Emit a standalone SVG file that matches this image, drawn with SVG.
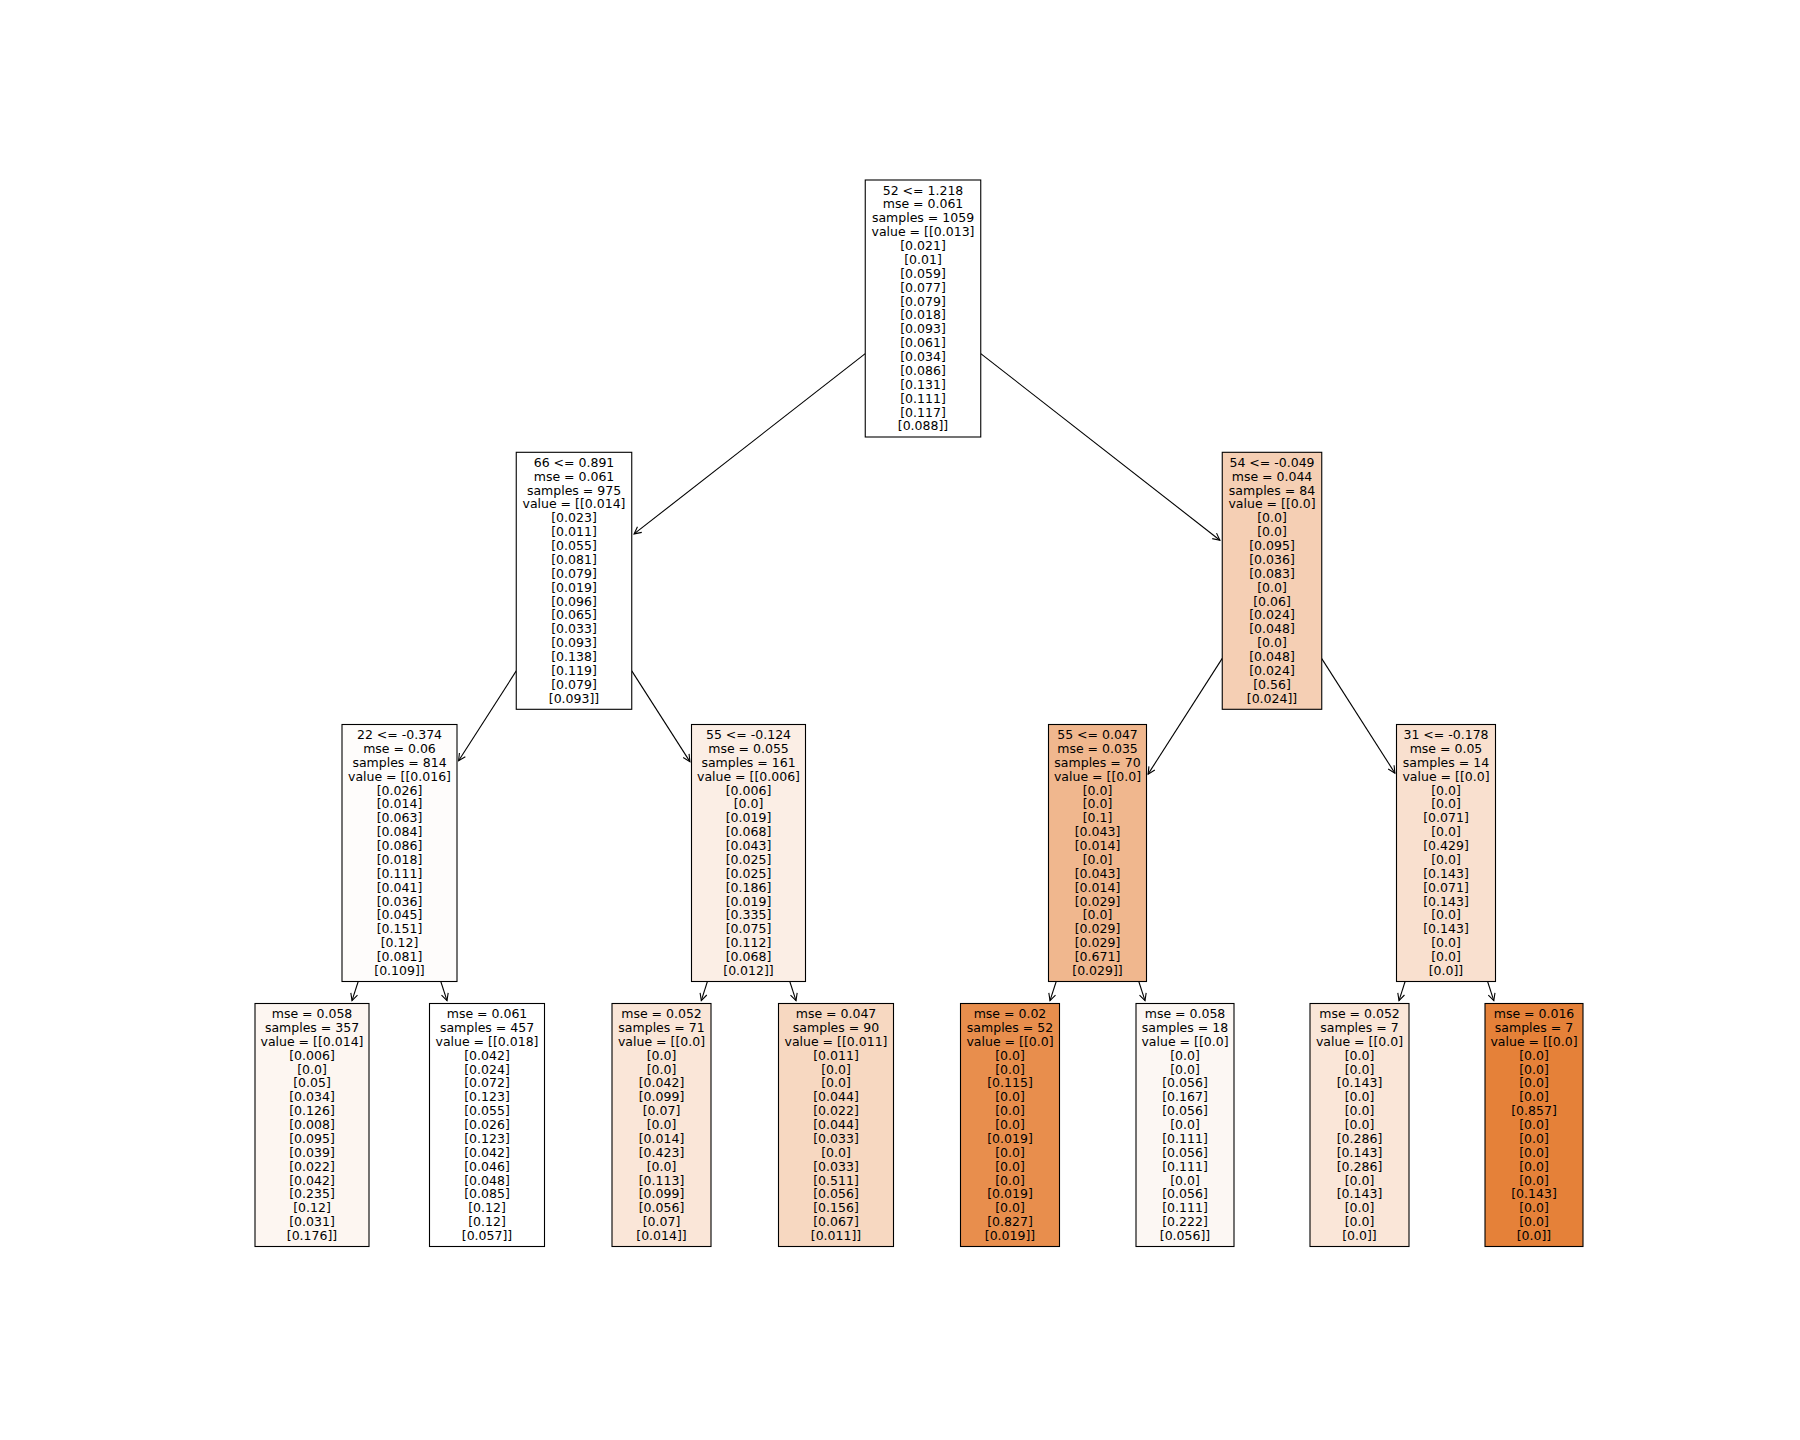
<svg xmlns="http://www.w3.org/2000/svg" width="1800" height="1440" viewBox="0 0 1800 1440">
<style>
.box{stroke:#000;stroke-width:1.1}
.t{font-family:"DejaVu Sans","Liberation Sans",sans-serif;font-size:12.5px;fill:#000;text-anchor:middle}
.e{stroke:#000;stroke-width:1.1;fill:none;marker-end:url(#ah)}
</style>
<defs>
<marker id="ah" markerUnits="userSpaceOnUse" markerWidth="12" markerHeight="12" viewBox="-9 -6 12 12" refX="0" refY="0" orient="auto">
<path d="M -7 -3.5 L 0 0 L -7 3.5" fill="none" stroke="#000" stroke-width="1.1"/>
</marker>
</defs>
<rect width="1800" height="1440" fill="#fff"/>
<g id="edges">
<line class="e" x1="865.25" y1="353.6" x2="634.1" y2="533.9"/>
<line class="e" x1="980.75" y1="353.6" x2="1219.9" y2="540.2"/>
<line class="e" x1="516.25" y1="670.9" x2="458.6" y2="760.8"/>
<line class="e" x1="631.75" y1="670.9" x2="689.9" y2="761.6"/>
<line class="e" x1="1222.25" y1="658.4" x2="1148.1" y2="774.1"/>
<line class="e" x1="1321.75" y1="658.6" x2="1394.9" y2="773.1"/>
<line class="e" x1="358.2" y1="981.5" x2="352.0" y2="1000.6"/>
<line class="e" x1="440.8" y1="981.5" x2="447.0" y2="1000.6"/>
<line class="e" x1="707.4" y1="981.5" x2="701.3" y2="1000.6"/>
<line class="e" x1="789.8" y1="981.5" x2="796.0" y2="1000.6"/>
<line class="e" x1="1056.2" y1="981.5" x2="1050.0" y2="1000.6"/>
<line class="e" x1="1138.8" y1="981.5" x2="1145.0" y2="1000.6"/>
<line class="e" x1="1405.1" y1="981.5" x2="1399.0" y2="1000.6"/>
<line class="e" x1="1487.6" y1="981.5" x2="1493.8" y2="1000.6"/>
</g>
<g id="root">
<rect class="box" x="865.25" y="180" width="115.5" height="257" fill="#ffffff"/>
<text class="t" x="923" y="194.5">52 &lt;= 1.218<tspan x="923" dy="13.88">mse = 0.061</tspan><tspan x="923" dy="13.88">samples = 1059</tspan><tspan x="923" dy="13.88">value = [[0.013]</tspan><tspan x="923" dy="13.88">[0.021]</tspan><tspan x="923" dy="13.88">[0.01]</tspan><tspan x="923" dy="13.88">[0.059]</tspan><tspan x="923" dy="13.88">[0.077]</tspan><tspan x="923" dy="13.88">[0.079]</tspan><tspan x="923" dy="13.88">[0.018]</tspan><tspan x="923" dy="13.88">[0.093]</tspan><tspan x="923" dy="13.88">[0.061]</tspan><tspan x="923" dy="13.88">[0.034]</tspan><tspan x="923" dy="13.88">[0.086]</tspan><tspan x="923" dy="13.88">[0.131]</tspan><tspan x="923" dy="13.88">[0.111]</tspan><tspan x="923" dy="13.88">[0.117]</tspan><tspan x="923" dy="13.88">[0.088]]</tspan></text>
</g>
<g id="n66">
<rect class="box" x="516.25" y="452.3" width="115.5" height="257" fill="#ffffff"/>
<text class="t" x="574" y="466.8">66 &lt;= 0.891<tspan x="574" dy="13.88">mse = 0.061</tspan><tspan x="574" dy="13.88">samples = 975</tspan><tspan x="574" dy="13.88">value = [[0.014]</tspan><tspan x="574" dy="13.88">[0.023]</tspan><tspan x="574" dy="13.88">[0.011]</tspan><tspan x="574" dy="13.88">[0.055]</tspan><tspan x="574" dy="13.88">[0.081]</tspan><tspan x="574" dy="13.88">[0.079]</tspan><tspan x="574" dy="13.88">[0.019]</tspan><tspan x="574" dy="13.88">[0.096]</tspan><tspan x="574" dy="13.88">[0.065]</tspan><tspan x="574" dy="13.88">[0.033]</tspan><tspan x="574" dy="13.88">[0.093]</tspan><tspan x="574" dy="13.88">[0.138]</tspan><tspan x="574" dy="13.88">[0.119]</tspan><tspan x="574" dy="13.88">[0.079]</tspan><tspan x="574" dy="13.88">[0.093]]</tspan></text>
</g>
<g id="n54">
<rect class="box" x="1222.25" y="452.3" width="99.5" height="257" fill="#f5cfb4"/>
<text class="t" x="1272" y="466.8">54 &lt;= -0.049<tspan x="1272" dy="13.88">mse = 0.044</tspan><tspan x="1272" dy="13.88">samples = 84</tspan><tspan x="1272" dy="13.88">value = [[0.0]</tspan><tspan x="1272" dy="13.88">[0.0]</tspan><tspan x="1272" dy="13.88">[0.0]</tspan><tspan x="1272" dy="13.88">[0.095]</tspan><tspan x="1272" dy="13.88">[0.036]</tspan><tspan x="1272" dy="13.88">[0.083]</tspan><tspan x="1272" dy="13.88">[0.0]</tspan><tspan x="1272" dy="13.88">[0.06]</tspan><tspan x="1272" dy="13.88">[0.024]</tspan><tspan x="1272" dy="13.88">[0.048]</tspan><tspan x="1272" dy="13.88">[0.0]</tspan><tspan x="1272" dy="13.88">[0.048]</tspan><tspan x="1272" dy="13.88">[0.024]</tspan><tspan x="1272" dy="13.88">[0.56]</tspan><tspan x="1272" dy="13.88">[0.024]]</tspan></text>
</g>
<g id="n22">
<rect class="box" x="342" y="724.5" width="115" height="257" fill="#fefcfb"/>
<text class="t" x="399.5" y="739">22 &lt;= -0.374<tspan x="399.5" dy="13.88">mse = 0.06</tspan><tspan x="399.5" dy="13.88">samples = 814</tspan><tspan x="399.5" dy="13.88">value = [[0.016]</tspan><tspan x="399.5" dy="13.88">[0.026]</tspan><tspan x="399.5" dy="13.88">[0.014]</tspan><tspan x="399.5" dy="13.88">[0.063]</tspan><tspan x="399.5" dy="13.88">[0.084]</tspan><tspan x="399.5" dy="13.88">[0.086]</tspan><tspan x="399.5" dy="13.88">[0.018]</tspan><tspan x="399.5" dy="13.88">[0.111]</tspan><tspan x="399.5" dy="13.88">[0.041]</tspan><tspan x="399.5" dy="13.88">[0.036]</tspan><tspan x="399.5" dy="13.88">[0.045]</tspan><tspan x="399.5" dy="13.88">[0.151]</tspan><tspan x="399.5" dy="13.88">[0.12]</tspan><tspan x="399.5" dy="13.88">[0.081]</tspan><tspan x="399.5" dy="13.88">[0.109]]</tspan></text>
</g>
<g id="n55a">
<rect class="box" x="691.5" y="724.5" width="114" height="257" fill="#fbeee5"/>
<text class="t" x="748.5" y="739">55 &lt;= -0.124<tspan x="748.5" dy="13.88">mse = 0.055</tspan><tspan x="748.5" dy="13.88">samples = 161</tspan><tspan x="748.5" dy="13.88">value = [[0.006]</tspan><tspan x="748.5" dy="13.88">[0.006]</tspan><tspan x="748.5" dy="13.88">[0.0]</tspan><tspan x="748.5" dy="13.88">[0.019]</tspan><tspan x="748.5" dy="13.88">[0.068]</tspan><tspan x="748.5" dy="13.88">[0.043]</tspan><tspan x="748.5" dy="13.88">[0.025]</tspan><tspan x="748.5" dy="13.88">[0.025]</tspan><tspan x="748.5" dy="13.88">[0.186]</tspan><tspan x="748.5" dy="13.88">[0.019]</tspan><tspan x="748.5" dy="13.88">[0.335]</tspan><tspan x="748.5" dy="13.88">[0.075]</tspan><tspan x="748.5" dy="13.88">[0.112]</tspan><tspan x="748.5" dy="13.88">[0.068]</tspan><tspan x="748.5" dy="13.88">[0.012]]</tspan></text>
</g>
<g id="n55b">
<rect class="box" x="1048.5" y="724.5" width="98" height="257" fill="#f0b78e"/>
<text class="t" x="1097.5" y="739">55 &lt;= 0.047<tspan x="1097.5" dy="13.88">mse = 0.035</tspan><tspan x="1097.5" dy="13.88">samples = 70</tspan><tspan x="1097.5" dy="13.88">value = [[0.0]</tspan><tspan x="1097.5" dy="13.88">[0.0]</tspan><tspan x="1097.5" dy="13.88">[0.0]</tspan><tspan x="1097.5" dy="13.88">[0.1]</tspan><tspan x="1097.5" dy="13.88">[0.043]</tspan><tspan x="1097.5" dy="13.88">[0.014]</tspan><tspan x="1097.5" dy="13.88">[0.0]</tspan><tspan x="1097.5" dy="13.88">[0.043]</tspan><tspan x="1097.5" dy="13.88">[0.014]</tspan><tspan x="1097.5" dy="13.88">[0.029]</tspan><tspan x="1097.5" dy="13.88">[0.0]</tspan><tspan x="1097.5" dy="13.88">[0.029]</tspan><tspan x="1097.5" dy="13.88">[0.029]</tspan><tspan x="1097.5" dy="13.88">[0.671]</tspan><tspan x="1097.5" dy="13.88">[0.029]]</tspan></text>
</g>
<g id="n31">
<rect class="box" x="1396.5" y="724.5" width="99" height="257" fill="#f9e0cf"/>
<text class="t" x="1446" y="739">31 &lt;= -0.178<tspan x="1446" dy="13.88">mse = 0.05</tspan><tspan x="1446" dy="13.88">samples = 14</tspan><tspan x="1446" dy="13.88">value = [[0.0]</tspan><tspan x="1446" dy="13.88">[0.0]</tspan><tspan x="1446" dy="13.88">[0.0]</tspan><tspan x="1446" dy="13.88">[0.071]</tspan><tspan x="1446" dy="13.88">[0.0]</tspan><tspan x="1446" dy="13.88">[0.429]</tspan><tspan x="1446" dy="13.88">[0.0]</tspan><tspan x="1446" dy="13.88">[0.143]</tspan><tspan x="1446" dy="13.88">[0.071]</tspan><tspan x="1446" dy="13.88">[0.143]</tspan><tspan x="1446" dy="13.88">[0.0]</tspan><tspan x="1446" dy="13.88">[0.143]</tspan><tspan x="1446" dy="13.88">[0.0]</tspan><tspan x="1446" dy="13.88">[0.0]</tspan><tspan x="1446" dy="13.88">[0.0]]</tspan></text>
</g>
<g id="leaf0">
<rect class="box" x="255" y="1003.5" width="114" height="243" fill="#fdf6f1"/>
<text class="t" x="312" y="1018">mse = 0.058<tspan x="312" dy="13.88">samples = 357</tspan><tspan x="312" dy="13.88">value = [[0.014]</tspan><tspan x="312" dy="13.88">[0.006]</tspan><tspan x="312" dy="13.88">[0.0]</tspan><tspan x="312" dy="13.88">[0.05]</tspan><tspan x="312" dy="13.88">[0.034]</tspan><tspan x="312" dy="13.88">[0.126]</tspan><tspan x="312" dy="13.88">[0.008]</tspan><tspan x="312" dy="13.88">[0.095]</tspan><tspan x="312" dy="13.88">[0.039]</tspan><tspan x="312" dy="13.88">[0.022]</tspan><tspan x="312" dy="13.88">[0.042]</tspan><tspan x="312" dy="13.88">[0.235]</tspan><tspan x="312" dy="13.88">[0.12]</tspan><tspan x="312" dy="13.88">[0.031]</tspan><tspan x="312" dy="13.88">[0.176]]</tspan></text>
</g>
<g id="leaf1">
<rect class="box" x="429.5" y="1003.5" width="115" height="243" fill="#ffffff"/>
<text class="t" x="487" y="1018">mse = 0.061<tspan x="487" dy="13.88">samples = 457</tspan><tspan x="487" dy="13.88">value = [[0.018]</tspan><tspan x="487" dy="13.88">[0.042]</tspan><tspan x="487" dy="13.88">[0.024]</tspan><tspan x="487" dy="13.88">[0.072]</tspan><tspan x="487" dy="13.88">[0.123]</tspan><tspan x="487" dy="13.88">[0.055]</tspan><tspan x="487" dy="13.88">[0.026]</tspan><tspan x="487" dy="13.88">[0.123]</tspan><tspan x="487" dy="13.88">[0.042]</tspan><tspan x="487" dy="13.88">[0.046]</tspan><tspan x="487" dy="13.88">[0.048]</tspan><tspan x="487" dy="13.88">[0.085]</tspan><tspan x="487" dy="13.88">[0.12]</tspan><tspan x="487" dy="13.88">[0.12]</tspan><tspan x="487" dy="13.88">[0.057]]</tspan></text>
</g>
<g id="leaf2">
<rect class="box" x="612" y="1003.5" width="99" height="243" fill="#fae6d8"/>
<text class="t" x="661.5" y="1018">mse = 0.052<tspan x="661.5" dy="13.88">samples = 71</tspan><tspan x="661.5" dy="13.88">value = [[0.0]</tspan><tspan x="661.5" dy="13.88">[0.0]</tspan><tspan x="661.5" dy="13.88">[0.0]</tspan><tspan x="661.5" dy="13.88">[0.042]</tspan><tspan x="661.5" dy="13.88">[0.099]</tspan><tspan x="661.5" dy="13.88">[0.07]</tspan><tspan x="661.5" dy="13.88">[0.0]</tspan><tspan x="661.5" dy="13.88">[0.014]</tspan><tspan x="661.5" dy="13.88">[0.423]</tspan><tspan x="661.5" dy="13.88">[0.0]</tspan><tspan x="661.5" dy="13.88">[0.113]</tspan><tspan x="661.5" dy="13.88">[0.099]</tspan><tspan x="661.5" dy="13.88">[0.056]</tspan><tspan x="661.5" dy="13.88">[0.07]</tspan><tspan x="661.5" dy="13.88">[0.014]]</tspan></text>
</g>
<g id="leaf3">
<rect class="box" x="778.5" y="1003.5" width="115" height="243" fill="#f7d8c1"/>
<text class="t" x="836" y="1018">mse = 0.047<tspan x="836" dy="13.88">samples = 90</tspan><tspan x="836" dy="13.88">value = [[0.011]</tspan><tspan x="836" dy="13.88">[0.011]</tspan><tspan x="836" dy="13.88">[0.0]</tspan><tspan x="836" dy="13.88">[0.0]</tspan><tspan x="836" dy="13.88">[0.044]</tspan><tspan x="836" dy="13.88">[0.022]</tspan><tspan x="836" dy="13.88">[0.044]</tspan><tspan x="836" dy="13.88">[0.033]</tspan><tspan x="836" dy="13.88">[0.0]</tspan><tspan x="836" dy="13.88">[0.033]</tspan><tspan x="836" dy="13.88">[0.511]</tspan><tspan x="836" dy="13.88">[0.056]</tspan><tspan x="836" dy="13.88">[0.156]</tspan><tspan x="836" dy="13.88">[0.067]</tspan><tspan x="836" dy="13.88">[0.011]]</tspan></text>
</g>
<g id="leaf4">
<rect class="box" x="960.5" y="1003.5" width="99" height="243" fill="#e88e4d"/>
<text class="t" x="1010" y="1018">mse = 0.02<tspan x="1010" dy="13.88">samples = 52</tspan><tspan x="1010" dy="13.88">value = [[0.0]</tspan><tspan x="1010" dy="13.88">[0.0]</tspan><tspan x="1010" dy="13.88">[0.0]</tspan><tspan x="1010" dy="13.88">[0.115]</tspan><tspan x="1010" dy="13.88">[0.0]</tspan><tspan x="1010" dy="13.88">[0.0]</tspan><tspan x="1010" dy="13.88">[0.0]</tspan><tspan x="1010" dy="13.88">[0.019]</tspan><tspan x="1010" dy="13.88">[0.0]</tspan><tspan x="1010" dy="13.88">[0.0]</tspan><tspan x="1010" dy="13.88">[0.0]</tspan><tspan x="1010" dy="13.88">[0.019]</tspan><tspan x="1010" dy="13.88">[0.0]</tspan><tspan x="1010" dy="13.88">[0.827]</tspan><tspan x="1010" dy="13.88">[0.019]]</tspan></text>
</g>
<g id="leaf5">
<rect class="box" x="1136" y="1003.5" width="98" height="243" fill="#fcf7f3"/>
<text class="t" x="1185" y="1018">mse = 0.058<tspan x="1185" dy="13.88">samples = 18</tspan><tspan x="1185" dy="13.88">value = [[0.0]</tspan><tspan x="1185" dy="13.88">[0.0]</tspan><tspan x="1185" dy="13.88">[0.0]</tspan><tspan x="1185" dy="13.88">[0.056]</tspan><tspan x="1185" dy="13.88">[0.167]</tspan><tspan x="1185" dy="13.88">[0.056]</tspan><tspan x="1185" dy="13.88">[0.0]</tspan><tspan x="1185" dy="13.88">[0.111]</tspan><tspan x="1185" dy="13.88">[0.056]</tspan><tspan x="1185" dy="13.88">[0.111]</tspan><tspan x="1185" dy="13.88">[0.0]</tspan><tspan x="1185" dy="13.88">[0.056]</tspan><tspan x="1185" dy="13.88">[0.111]</tspan><tspan x="1185" dy="13.88">[0.222]</tspan><tspan x="1185" dy="13.88">[0.056]]</tspan></text>
</g>
<g id="leaf6">
<rect class="box" x="1310" y="1003.5" width="99" height="243" fill="#fae6d8"/>
<text class="t" x="1359.5" y="1018">mse = 0.052<tspan x="1359.5" dy="13.88">samples = 7</tspan><tspan x="1359.5" dy="13.88">value = [[0.0]</tspan><tspan x="1359.5" dy="13.88">[0.0]</tspan><tspan x="1359.5" dy="13.88">[0.0]</tspan><tspan x="1359.5" dy="13.88">[0.143]</tspan><tspan x="1359.5" dy="13.88">[0.0]</tspan><tspan x="1359.5" dy="13.88">[0.0]</tspan><tspan x="1359.5" dy="13.88">[0.0]</tspan><tspan x="1359.5" dy="13.88">[0.286]</tspan><tspan x="1359.5" dy="13.88">[0.143]</tspan><tspan x="1359.5" dy="13.88">[0.286]</tspan><tspan x="1359.5" dy="13.88">[0.0]</tspan><tspan x="1359.5" dy="13.88">[0.143]</tspan><tspan x="1359.5" dy="13.88">[0.0]</tspan><tspan x="1359.5" dy="13.88">[0.0]</tspan><tspan x="1359.5" dy="13.88">[0.0]]</tspan></text>
</g>
<g id="leaf7">
<rect class="box" x="1485" y="1003.5" width="98" height="243" fill="#e58139"/>
<text class="t" x="1534" y="1018">mse = 0.016<tspan x="1534" dy="13.88">samples = 7</tspan><tspan x="1534" dy="13.88">value = [[0.0]</tspan><tspan x="1534" dy="13.88">[0.0]</tspan><tspan x="1534" dy="13.88">[0.0]</tspan><tspan x="1534" dy="13.88">[0.0]</tspan><tspan x="1534" dy="13.88">[0.0]</tspan><tspan x="1534" dy="13.88">[0.857]</tspan><tspan x="1534" dy="13.88">[0.0]</tspan><tspan x="1534" dy="13.88">[0.0]</tspan><tspan x="1534" dy="13.88">[0.0]</tspan><tspan x="1534" dy="13.88">[0.0]</tspan><tspan x="1534" dy="13.88">[0.0]</tspan><tspan x="1534" dy="13.88">[0.143]</tspan><tspan x="1534" dy="13.88">[0.0]</tspan><tspan x="1534" dy="13.88">[0.0]</tspan><tspan x="1534" dy="13.88">[0.0]]</tspan></text>
</g>
</svg>
